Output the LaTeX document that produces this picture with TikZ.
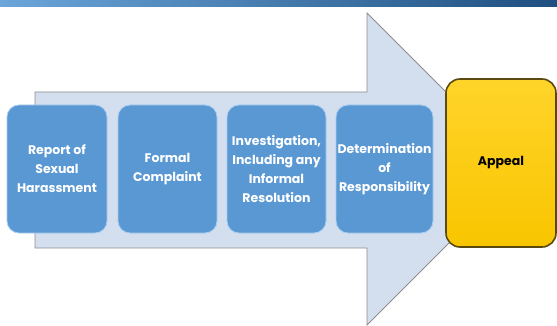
\documentclass[tikz,border=0pt]{standalone}
\usepackage{fontspec}
\newfontfamily\stepfont{Poppins}
\usepackage{tikz}
\usetikzlibrary{calc}
\definecolor{barlight}{HTML}{6BA5DA}
\definecolor{bardark}{HTML}{1F4F80}
\definecolor{arrowfill}{HTML}{D3DEEF}
\definecolor{arrowline}{HTML}{8E8E8E}
\definecolor{stepfill}{HTML}{5A98D4}
\definecolor{stepline}{HTML}{A8CDF0}
\definecolor{appealtop}{HTML}{FFD42A}
\definecolor{appealbottom}{HTML}{F9C500}
\definecolor{appealline}{HTML}{5A4A10}
\tikzset{
  stepbox/.style={draw=stepline,line width=0.8pt,fill=stepfill,rounded corners=12pt,
    minimum height=128pt,align=center,text=white,inner sep=0pt,
    font=\stepfont\bfseries\fontsize{12.5}{19}\selectfont},
  appealbox/.style={draw=appealline,line width=1.6pt,top color=appealtop,bottom color=appealbottom,
    rounded corners=14pt,minimum width=110pt,minimum height=168pt,
    font=\stepfont\bfseries\fontsize{12.5}{19}\selectfont}
}
\begin{document}
\begin{tikzpicture}[x=1pt,y=-1pt]
            \useasboundingbox (0,0) rectangle (557,326);
            % Title bar
            \shade[left color=barlight,right color=bardark](0,0)rectangle(557,7);
            % Big arrow
            \filldraw[fill=arrowfill,draw=arrowline,line width=0.8pt]
              (35,92)--(367,92)--(367,13)--(523,169)--(367,325)--(367,248)--(35,248)--cycle;
            % Steps
            \node[stepbox,minimum width=100pt](report)at(57,169){Report of\\Sexual\\Harassment};
            \node[stepbox,minimum width=99pt](complaint)at(167.5,169){Formal\\Complaint};
            \node[stepbox,minimum width=99pt](investigation)at(276.5,169){Investigation,\\Including any\\Informal\\Resolution};
            \node[stepbox,minimum width=97pt](determination)at(384.5,169){Determination\\of\\Responsibility};
            % Final step
            \node[appealbox](appeal)at(501,163){Appeal};
        \end{tikzpicture}
\end{document}
